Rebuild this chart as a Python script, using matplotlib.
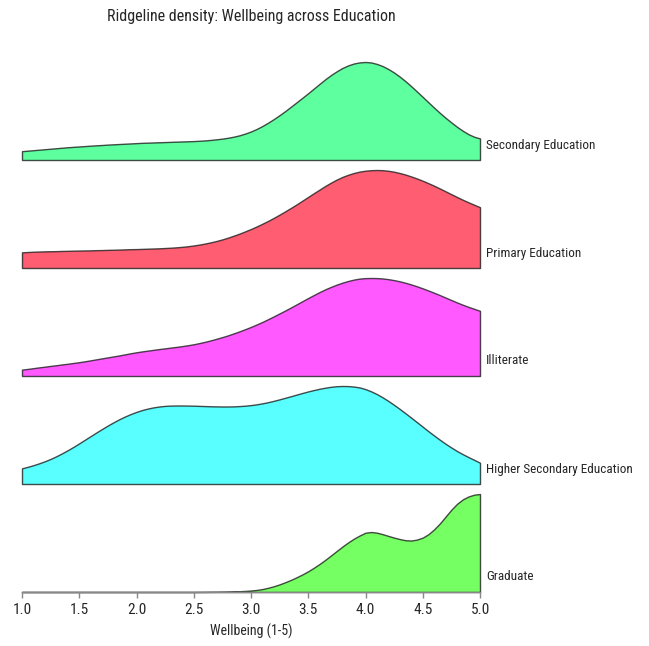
import numpy as np
import matplotlib
matplotlib.use("Agg")
import matplotlib.pyplot as plt
from matplotlib import transforms

plt.rcParams['font.family'] = ['Roboto Condensed', 'DejaVu Sans']

# Wellbeing grid (1-5), step 0.05
wellbeing = np.round(np.linspace(1.0, 5.0, 81), 2)

# Relative density (peak = 1), top ridge to bottom ridge
categories = ["Secondary Education", "Primary Education", "Illiterate",
              "Higher Secondary Education", "Graduate"]

secondary = [0.090, 0.095, 0.100, 0.105, 0.110, 0.115, 0.120, 0.125, 0.130, 0.134,
             0.138, 0.142, 0.146, 0.150, 0.153, 0.157, 0.160, 0.163, 0.166, 0.169,
             0.172, 0.175, 0.177, 0.179, 0.181, 0.183, 0.185, 0.187, 0.189, 0.191,
             0.193, 0.196, 0.200, 0.205, 0.211, 0.218, 0.227, 0.238, 0.252, 0.270,
             0.291, 0.317, 0.347, 0.381, 0.418, 0.458, 0.500, 0.545, 0.590, 0.636,
             0.682, 0.730, 0.778, 0.825, 0.868, 0.906, 0.940, 0.966, 0.985, 0.996,
             1.000, 0.995, 0.980, 0.958, 0.928, 0.892, 0.850, 0.803, 0.752, 0.698,
             0.643, 0.588, 0.533, 0.480, 0.430, 0.383, 0.338, 0.298, 0.263, 0.237,
             0.220]

primary = [0.160, 0.163, 0.166, 0.168, 0.170, 0.171, 0.172, 0.174, 0.175, 0.177,
           0.178, 0.179, 0.180, 0.182, 0.183, 0.185, 0.186, 0.188, 0.190, 0.192,
           0.193, 0.195, 0.197, 0.199, 0.201, 0.204, 0.207, 0.211, 0.216, 0.222,
           0.230, 0.239, 0.250, 0.262, 0.276, 0.292, 0.310, 0.330, 0.351, 0.374,
           0.398, 0.424, 0.452, 0.481, 0.512, 0.545, 0.579, 0.614, 0.650, 0.688,
           0.726, 0.764, 0.801, 0.838, 0.872, 0.903, 0.930, 0.952, 0.970, 0.984,
           0.993, 0.998, 1.000, 0.998, 0.992, 0.982, 0.969, 0.953, 0.934, 0.913,
           0.890, 0.865, 0.839, 0.811, 0.782, 0.753, 0.724, 0.696, 0.670, 0.645,
           0.620]

illiterate = [0.065, 0.072, 0.080, 0.088, 0.095, 0.103, 0.110, 0.118, 0.125, 0.133,
              0.141, 0.150, 0.160, 0.170, 0.180, 0.190, 0.200, 0.210, 0.221, 0.232,
              0.242, 0.251, 0.259, 0.267, 0.275, 0.282, 0.290, 0.297, 0.305, 0.314,
              0.324, 0.336, 0.349, 0.364, 0.380, 0.397, 0.415, 0.435, 0.456, 0.478,
              0.501, 0.526, 0.552, 0.580, 0.609, 0.639, 0.669, 0.700, 0.732, 0.764,
              0.796, 0.827, 0.857, 0.885, 0.910, 0.933, 0.953, 0.970, 0.984, 0.994,
              0.999, 1.000, 0.999, 0.995, 0.988, 0.978, 0.966, 0.951, 0.934, 0.915,
              0.894, 0.872, 0.849, 0.825, 0.800, 0.775, 0.750, 0.727, 0.705, 0.685,
              0.665]

higher_secondary = [0.160, 0.175, 0.192, 0.211, 0.232, 0.256, 0.283, 0.313, 0.345, 0.379,
                    0.415, 0.452, 0.489, 0.526, 0.562, 0.597, 0.630, 0.661, 0.689, 0.714,
                    0.736, 0.755, 0.770, 0.782, 0.791, 0.797, 0.800, 0.801, 0.801, 0.800,
                    0.799, 0.797, 0.795, 0.793, 0.792, 0.791, 0.791, 0.792, 0.795, 0.799,
                    0.805, 0.813, 0.823, 0.835, 0.849, 0.864, 0.880, 0.896, 0.913, 0.929,
                    0.945, 0.959, 0.972, 0.983, 0.992, 0.998, 1.000, 0.999, 0.994, 0.985,
                    0.968, 0.945, 0.917, 0.884, 0.847, 0.807, 0.765, 0.721, 0.676, 0.630,
                    0.584, 0.538, 0.494, 0.451, 0.410, 0.372, 0.336, 0.304, 0.274, 0.246,
                    0.217]

graduate = [0.0, 0.0, 0.0, 0.0, 0.0, 0.0, 0.0, 0.0, 0.0, 0.0,
            0.0, 0.0, 0.0, 0.0, 0.0, 0.0, 0.0, 0.0, 0.0, 0.0,
            0.0, 0.0, 0.0, 0.0, 0.0, 0.0, 0.0, 0.0, 0.0, 0.0,
            0.0, 0.0005, 0.001, 0.0015, 0.002, 0.003, 0.004, 0.006, 0.008, 0.011,
            0.015, 0.021, 0.030, 0.043, 0.059, 0.078, 0.100, 0.124, 0.151, 0.180,
            0.212, 0.248, 0.287, 0.329, 0.374, 0.420, 0.465, 0.507, 0.545, 0.577,
            0.605, 0.612, 0.605, 0.590, 0.572, 0.555, 0.540, 0.528, 0.525, 0.535,
            0.555, 0.590, 0.640, 0.700, 0.770, 0.840, 0.900, 0.945, 0.975, 0.993,
            1.000]

series = [secondary, primary, illiterate, higher_secondary, graduate]
colors = ["#08FF6C", "#FF0826", "#FF00FF", "#00FFFF", "#2BFF0E"]

xticks = [1.0, 1.5, 2.0, 2.5, 3.0, 3.5, 4.0, 4.5, 5.0]

W, H = 649, 646
fig = plt.figure(figsize=(W / 100, H / 100), dpi=100)

left_px, right_px = 22, 480
baselines_px = [160, 268, 376, 484, 592]
ridge_h_px = 98
text_col = "#262626"

for i, (name, vals, col) in enumerate(zip(categories, series, colors)):
    b = baselines_px[i]
    ax = fig.add_axes([left_px / W, (H - b) / H, (right_px - left_px) / W, ridge_h_px / H])
    face = matplotlib.colors.to_rgba(col, 0.65)
    ax.fill_between(wellbeing, 0, vals, facecolor=face,
                    edgecolor=(0.12, 0.12, 0.12, 0.8), linewidth=1.0, clip_on=False)
    ax.set_xlim(1.0, 5.0)
    ax.set_ylim(0, 1.0)
    ax.set_yticks([])
    for s in ["top", "right", "left"]:
        ax.spines[s].set_visible(False)
    t = ax.text(1.0, 0.0, name, ha="left", va="center", fontsize=9.5, color=text_col)
    t.set_transform(ax.transAxes + transforms.ScaledTranslation(6 / 100, 15 / 100, fig.dpi_scale_trans))
    if i < len(categories) - 1:
        ax.spines["bottom"].set_visible(False)
        ax.set_xticks([])
    else:
        ax.spines["bottom"].set_color("#888888")
        ax.spines["bottom"].set_linewidth(1.0)
        ax.set_xticks(xticks)
        ax.set_xticklabels([f"{v:.1f}" for v in xticks])
        ax.tick_params(axis="x", colors="#888888", labelcolor=text_col,
                       labelsize=11, length=4, width=1, pad=4)
        ax.set_xlabel("Wellbeing (1-5)", fontsize=10, color=text_col, labelpad=5)
    ax.patch.set_alpha(0)

fig.text((left_px + right_px) / 2 / W, 1 - 17 / H,
         "Ridgeline density: Wellbeing across Education",
         ha="center", va="center", fontsize=11.5, color=text_col)

fig.savefig("out.png", dpi=100)
